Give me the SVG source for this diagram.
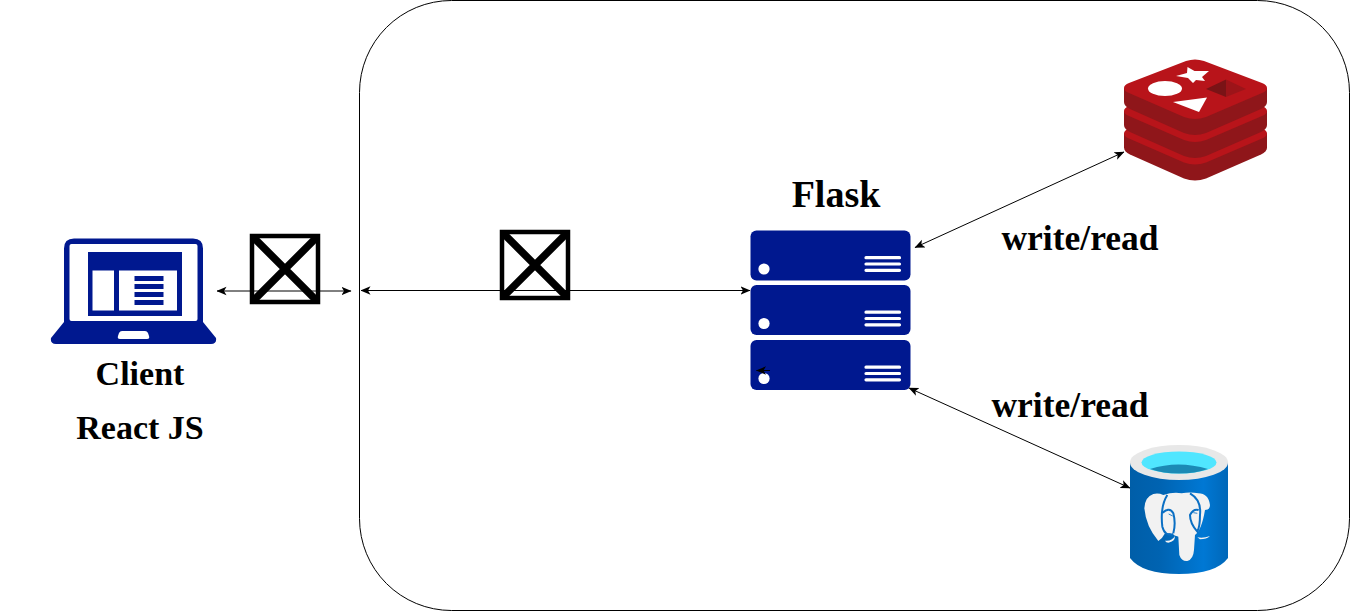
<svg xmlns="http://www.w3.org/2000/svg" width="1350" height="611" viewBox="0 0 1350 611">
<style>
.lbl{font-family:"Liberation Serif","Times New Roman",serif;font-weight:bold;fill:#000}
.conn{stroke:#000;stroke-width:1;fill:none;marker-start:url(#ah);marker-end:url(#ah)}
.xbox{fill:none;stroke:#000;stroke-width:4.500}
.xcross{fill:none;stroke:#000;stroke-width:7.500}
.navy{fill:#00188f}
.wh{fill:#fff}
.bar{stroke:#fff;stroke-width:3.200;stroke-linecap:round}
.rside{fill:#8f161a}
.rface{fill:#b8141a}
.eline{fill:none;stroke:#0a6fc4;stroke-width:6}
.ewh{fill:#f2f2f2}
</style>
<defs>
<marker id="ah" viewBox="0 0 10 10" refX="9.500" refY="5" markerWidth="10" markerHeight="10" markerUnits="userSpaceOnUse" orient="auto-start-reverse"><path d="M0 0.800L10 5L0 9.200L2.500 5Z" fill="#000"/></marker>
<linearGradient id="pg" x1="0" y1="0" x2="1" y2="0"><stop offset="0" stop-color="#005ea8"/><stop offset="0.300" stop-color="#0063b1"/><stop offset="0.750" stop-color="#0078d4"/><stop offset="1" stop-color="#0067b8"/></linearGradient>
<clipPath id="c1"><rect x="250" y="234" width="70" height="70"/></clipPath>
<clipPath id="c2"><rect x="500" y="230" width="70" height="70"/></clipPath>
<g id="srv"><rect x="0" y="0" width="160" height="50" rx="6" class="navy"/><circle cx="13.500" cy="38.500" r="5.600" class="wh"/><path class="bar" d="M115.500 27.200H149 M115.500 33.500H149 M115.500 39.800H149"/></g>
<g id="rlayer"><path class="rside" d="M1124 88V102Q1124 106 1130 109L1184 133Q1195 137 1206 133L1261 109Q1267 106 1267 102V88Z"/><path class="rface" d="M1124 88Q1124 85 1129 83L1186 61Q1195 58 1204 61L1262 83Q1267 85 1267 88Q1267 91 1262 93L1206 117Q1195 121 1184 117L1129 93Q1124 91 1124 88Z"/></g>
</defs>
<rect id="boundary" x="359.500" y="0.500" width="990" height="610" rx="92" fill="#fff" stroke="#000" stroke-width="1"/>
<g id="client">
<path class="navy" d="M74 238.500H193Q203 238.500 203 248.500V322L216 338Q217 344 211 344H56Q50 344 51 338L64 322V248.500Q64 238.500 74 238.500Z"/>
<rect x="69.500" y="244" width="128" height="77" rx="2" class="wh"/>
<rect x="88" y="252" width="94" height="64" class="navy"/>
<rect x="92.500" y="270.500" width="21.500" height="40" class="wh"/>
<rect x="119" y="270.500" width="58" height="40" class="wh"/>
<path class="navy" d="M134.500 276h29v5h-29zM134.500 284h29v5h-29zM134.500 292h29v5h-29zM134.500 300h29v5h-29z"/>
<path class="wh" d="M122 331H145Q147 331 148 333L149 336Q150 339 147 339H120Q117 339 118 336L119 333Q120 331 122 331Z"/>
<text class="lbl" x="140" y="385" font-size="34" text-anchor="middle">Client</text>
<text class="lbl" x="140" y="439" font-size="34" text-anchor="middle">React JS</text>
</g>
<g id="gateway-1"><rect class="xbox" x="252" y="236" width="66" height="66"/><path class="xcross" clip-path="url(#c1)" d="M252 236L318 302M318 236L252 302"/></g>
<g id="gateway-2"><rect class="xbox" x="502" y="232" width="66" height="66"/><path class="xcross" clip-path="url(#c2)" d="M502 232L568 298M568 232L502 298"/></g>
<g id="flask">
<use href="#srv" x="750.500" y="230.500"/>
<use href="#srv" x="750.500" y="285"/>
<use href="#srv" x="750.500" y="340"/>
<text class="lbl" x="836" y="207" font-size="38" text-anchor="middle">Flask</text>
</g>
<g id="redis">
<use href="#rlayer" y="45.500"/>
<use href="#rlayer" y="23"/>
<use href="#rlayer"/>
<path fill="#fff" d="M1187.500 67L1194.500 71L1209 71L1202 77L1205 81L1196 80L1193 83L1188 78L1176 76L1187 73Z"/>
<ellipse cx="1165" cy="88.500" rx="17" ry="7.500" fill="#fff"/>
<path fill="#fff" d="M1173 102L1207 97.500L1199 112Z"/>
<path fill="#7a1316" d="M1206 89L1226 79.500V97Z"/>
<path fill="#9c1419" d="M1226 79.500L1246 89L1226 97Z"/>
</g>
<g id="postgres">
<path fill="url(#pg)" d="M1130 462V558Q1142 574 1179 574Q1216 574 1228 558V462Z"/>
<ellipse cx="1179" cy="462.500" rx="49" ry="17.500" fill="#e8e8e8"/>
<ellipse cx="1179" cy="462.500" rx="37.500" ry="11" fill="#50e6ff"/>
<path fill="#1b8ab5" d="M1150 469Q1178 460 1208 469Q1195 473.500 1179 473.500Q1163 473.500 1150 469Z"/>
<g transform="translate(1110 430) scale(0.3333)">
<path class="ewh" d="M130 192Q105 200 103 235Q108 290 145 333Q158 325 165 310L180 310Q200 320 205 320L208 375Q215 395 232 393Q250 388 252 360L255 315Q275 300 285 240Q300 240 300 225Q295 190 265 190Q240 185 215 190Q190 185 160 195Q145 188 130 192Z"/>
<path class="eline" d="M172 195Q150 230 157 290Q165 320 190 312M158 248Q178 230 190 250Q198 280 190 310M240 190Q275 210 270 255Q270 290 262 305Q240 280 240 255Q250 235 266 240"/>
<path fill="none" stroke="#0a6fc4" stroke-width="2.500" d="M176 252L188 258M250 248L262 250"/>
<path class="ewh" d="M165 332Q185 335 195 318Q195 335 175 338Q168 338 165 332ZM262 322Q280 326 300 318Q290 328 270 328Z"/>
</g>
</g>
<g id="connectors">
<path class="conn" d="M217 291H351"/>
<path class="conn" d="M361 290.500H750"/>
<path class="conn" d="M915 247.500L1124 152"/>
<path class="conn" d="M909 388L1130 488"/>
<path d="M756.500 370.500H770" stroke="#000" stroke-width="1" fill="none" marker-start="url(#ah)"/>
</g>
<text class="lbl" x="1080" y="250" font-size="35.500" text-anchor="middle">write/read</text>
<text class="lbl" x="1070" y="417" font-size="35.500" text-anchor="middle">write/read</text>
</svg>
